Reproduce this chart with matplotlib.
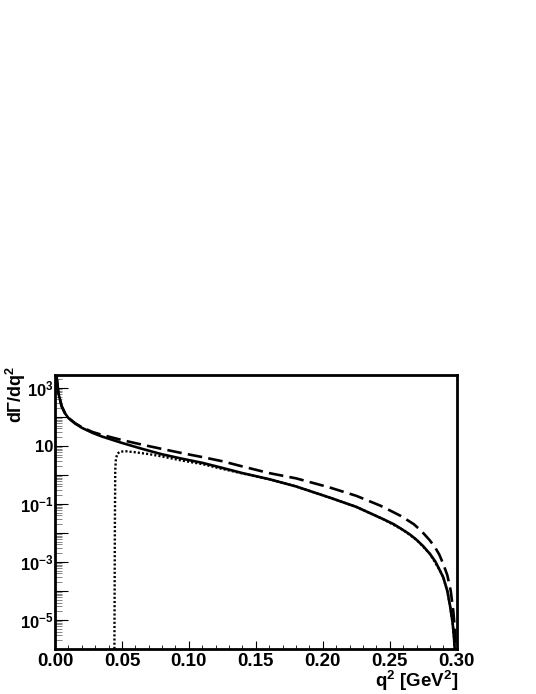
import math
import matplotlib
matplotlib.use("Agg")
import matplotlib.pyplot as plt
from matplotlib.ticker import MultipleLocator, FuncFormatter, LogLocator, NullFormatter

plt.rcParams['font.family'] = ['Liberation Sans', 'DejaVu Sans']
plt.rcParams['font.weight'] = 'bold'
plt.rcParams['mathtext.fontset'] = 'custom'
plt.rcParams['mathtext.rm'] = 'Liberation Sans:bold'
plt.rcParams['mathtext.it'] = 'Liberation Sans:bold'
plt.rcParams['mathtext.bf'] = 'Liberation Sans:bold'
plt.rcParams['lines.scale_dashes'] = False

# q^2 [GeV^2] and dGamma/dq^2
q2_solid = [0.0005, 0.0012, 0.0025, 0.005, 0.0075, 0.010, 0.015, 0.020, 0.028, 0.035,
            0.050, 0.065, 0.080, 0.095, 0.110, 0.125, 0.140, 0.160, 0.180, 0.205,
            0.225, 0.245, 0.253, 0.260, 0.265, 0.270, 0.275, 0.280, 0.284, 0.287,
            0.290, 0.293, 0.295, 0.297, 0.298, 0.2992]
rate_solid = [10000, 2500, 660, 230, 132, 91, 59, 42, 28, 21,
              12.6, 7.9, 5.1, 3.6, 2.6, 1.74, 1.15, 0.71, 0.40, 0.166,
              0.079, 0.030, 0.020, 0.0126, 0.0089, 0.0058, 0.0035, 0.0019, 0.00105, 5.6e-4,
              2.95e-4, 1.0e-4, 3.2e-5, 7.9e-6, 2.5e-6, 3.2e-7]

q2_dashed = [0.0005, 0.0012, 0.0025, 0.005, 0.0075, 0.010, 0.015, 0.020, 0.028, 0.035,
             0.050, 0.065, 0.080, 0.095, 0.110, 0.125, 0.140, 0.160, 0.180, 0.205,
             0.225, 0.243, 0.250, 0.258, 0.263, 0.268, 0.274, 0.280, 0.284, 0.287,
             0.290, 0.293, 0.2955, 0.2975, 0.2988, 0.2997]
rate_dashed = [10000, 2500, 660, 230, 132, 92, 60, 44, 30, 24,
               15.8, 11.0, 7.8, 5.6, 4.1, 2.95, 1.95, 1.15, 0.76, 0.37,
               0.19, 0.087, 0.060, 0.039, 0.028, 0.020, 0.0112, 0.0055, 0.0031, 0.0018,
               8.5e-4, 3.5e-4, 1.05e-4, 2.0e-5, 4.0e-6, 3.2e-7]

q2_dotted = [0.0443, 0.0447, 0.0450, 0.0455, 0.0465, 0.0485, 0.0530, 0.060, 0.070, 0.080,
             0.095, 0.110, 0.125, 0.140, 0.160, 0.180, 0.205, 0.225, 0.245, 0.260,
             0.270, 0.280, 0.287, 0.290, 0.293, 0.295, 0.297, 0.298, 0.2992]
rate_dotted = [1e-7, 1e-2, 1.5, 3.5, 5.3, 6.3, 6.5, 6.0, 5.2, 4.3,
               3.1, 2.35, 1.6, 1.12, 0.71, 0.40, 0.166, 0.079, 0.030, 0.0126,
               0.0058, 0.0019, 5.6e-4, 2.95e-4, 1.0e-4, 3.2e-5, 7.9e-6, 2.5e-6, 3.2e-7]

fig = plt.figure(figsize=(5.36, 6.94), dpi=100)
ax = fig.add_axes([0.1026, 0.0648, 0.7494, 0.3948])

ax.plot(q2_dotted, rate_dotted, color='black', lw=1.7, dashes=(1.5, 1.5))
ax.plot(q2_dashed, rate_dashed, color='black', lw=1.9, dashes=(10.5, 4.5))
ax.plot(q2_solid, rate_solid, color='black', lw=1.9)

ax.set_yscale('log')
ax.set_xlim(0, 0.3)
ax.set_ylim(1e-6, 2750)

for s in ax.spines.values():
    s.set_linewidth(2.0)

ax.xaxis.set_major_locator(MultipleLocator(0.05))
ax.xaxis.set_minor_locator(MultipleLocator(0.01))
ax.xaxis.set_major_formatter(FuncFormatter(lambda v, p: "%.2f" % v))

ax.yaxis.set_major_locator(LogLocator(base=10, numticks=30))
ax.yaxis.set_minor_locator(LogLocator(base=10, subs=[2, 3, 4, 5, 6, 7, 8, 9], numticks=30))
ax.yaxis.set_minor_formatter(NullFormatter())


def ylab(v, p):
    e = int(round(math.log10(v)))
    if e % 2 == 0:
        return ""
    if e == 1:
        return "10"
    return r"10$^{%d}$" % e


ax.yaxis.set_major_formatter(FuncFormatter(ylab))

ax.tick_params(axis='x', which='major', direction='in', length=6, width=0.8, labelsize=13.5, pad=3)
ax.tick_params(axis='x', which='minor', direction='in', length=3, width=0.6)
ax.tick_params(axis='y', which='major', direction='in', length=9, width=0.8, labelsize=12, pad=1)
ax.tick_params(axis='y', which='minor', direction='in', length=5, width=0.5, color='#555555')
for lab in ax.get_xticklabels() + ax.get_yticklabels():
    lab.set_fontweight('bold')

fig.text(458 / 536, 1 - 681 / 694, r"q$^{2}$ [GeV$^{2}$]", ha='right', va='center',
         fontsize=13.5, fontweight='bold')
fig.text(16 / 536, 1 - 366 / 694, r"d$\Gamma$/dq$^{2}$", rotation=90, ha='center', va='top',
         fontsize=13, fontweight='bold')

fig.savefig("out.png", dpi=100)
